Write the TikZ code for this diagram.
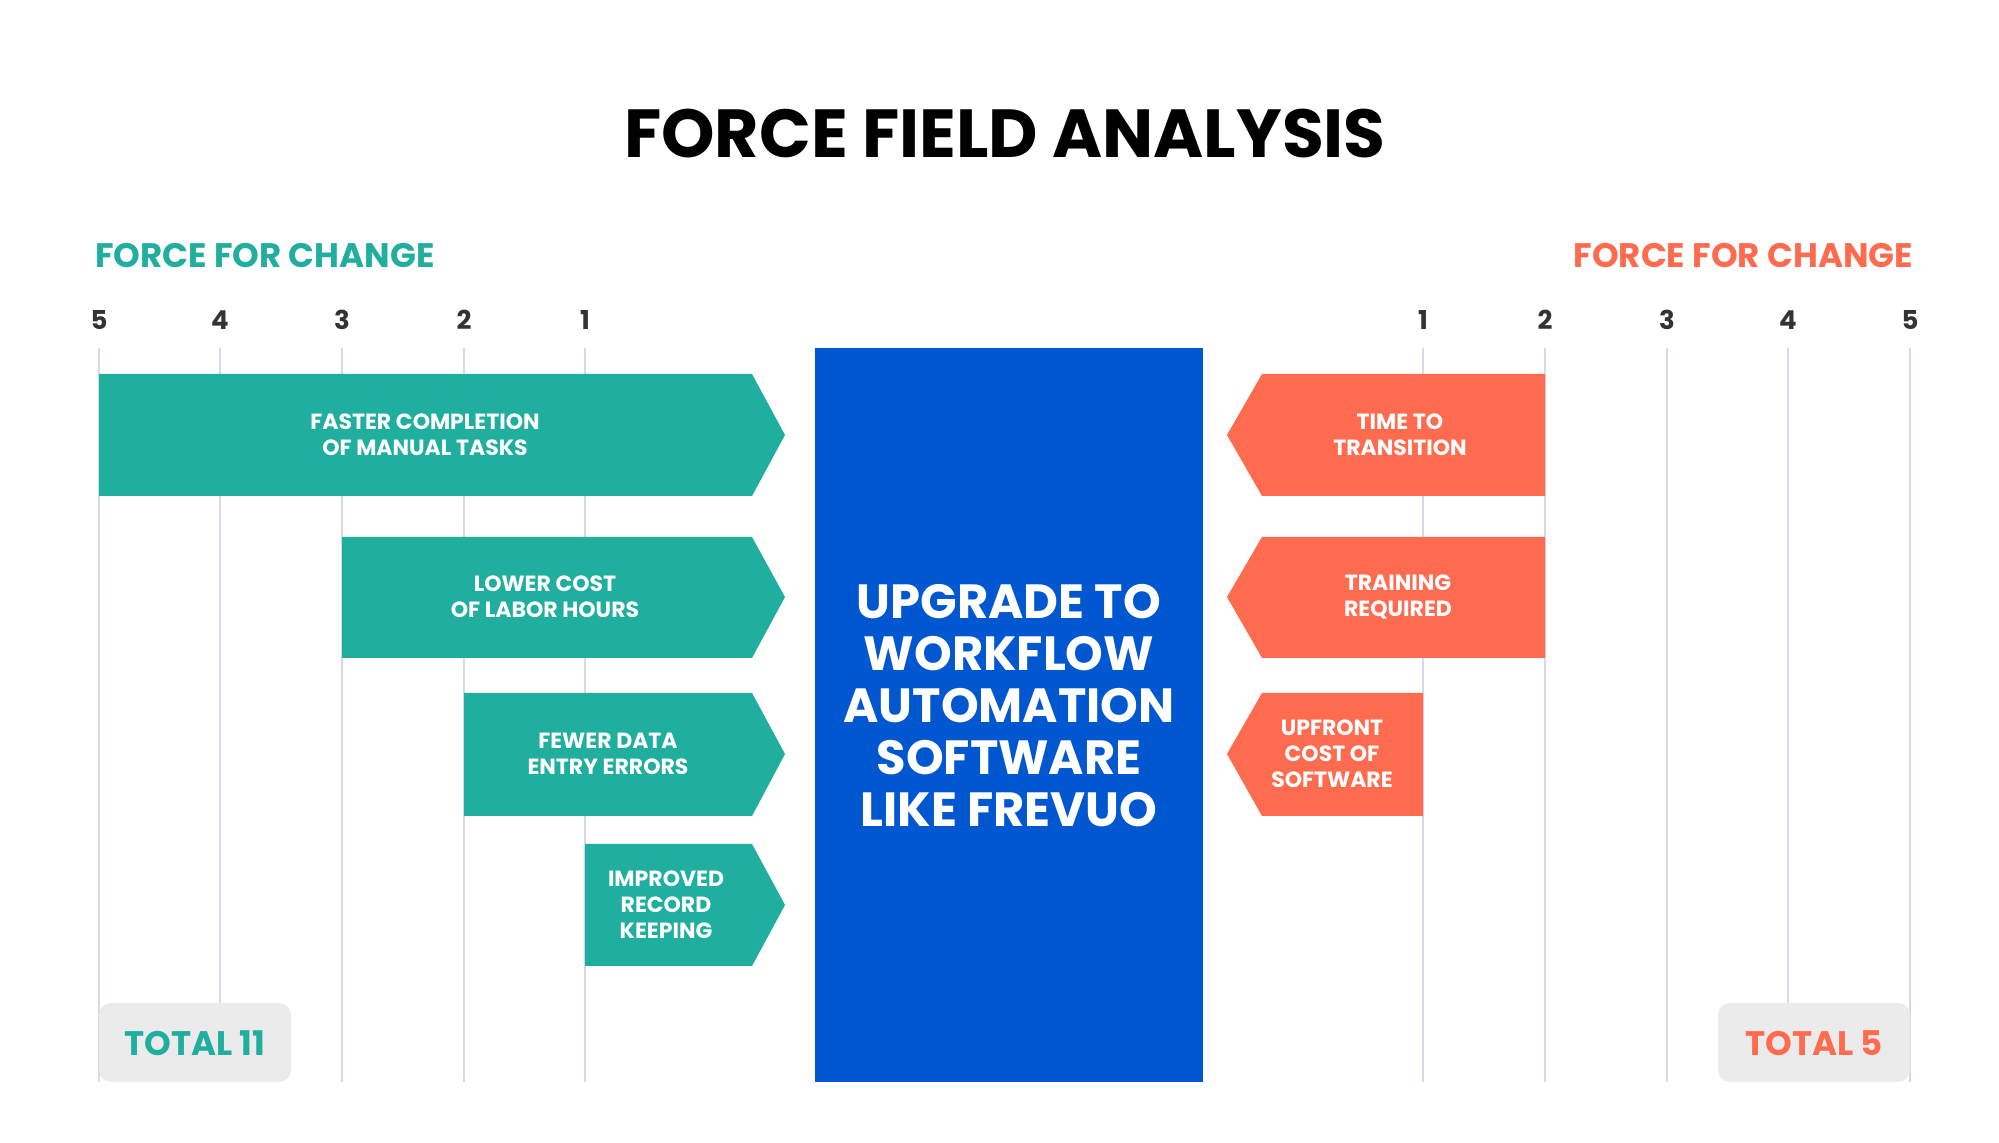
\documentclass[tikz,border=0pt]{standalone}
\usepackage{fontspec}
\setmainfont{Poppins}
\begin{document}
\definecolor{teal}{HTML}{20AE9E}
\definecolor{coral}{HTML}{FF6B4E}
\definecolor{bblue}{HTML}{0057D0}
\definecolor{gline}{HTML}{D3DBEA}
\definecolor{gbox}{HTML}{EBEBEB}
\definecolor{num}{HTML}{333333}
\begin{tikzpicture}[x=0.5pt,y=-0.5pt,
  lbl/.style={text=white,font=\bfseries\fontsize{11}{13}\selectfont,align=center},
  numl/.style={text=num,font=\bfseries\fontsize{13}{15}\selectfont},
  grid/.style={gline,line width=1.2pt},
  gar/.style={fill=teal},rar/.style={fill=coral}]
\useasboundingbox (0,0) rectangle (1999,1143);
\fill[white] (0,0) rectangle (1999,1143);
\node (title) at (1005,134) {\bfseries\fontsize{34}{40}\selectfont FORCE FIELD ANALYSIS};
\node[anchor=west,text=teal,font=\bfseries\fontsize{17}{20}\selectfont] (hl) at (88,256) {FORCE FOR CHANGE};
\node[anchor=east,text=coral,font=\bfseries\fontsize{17}{20}\selectfont] (hr) at (1920,256) {FORCE FOR CHANGE};
\foreach \x/\n in {99/5,220/4,342/3,464/2,585/1,1423/1,1545/2,1667/3,1788/4,1910/5}{
  \draw[grid] (\x,348) -- (\x,1082);
  \node[numl] at (\x,320) {\n};
}
% total boxes
\fill[gbox,rounded corners=6pt] (99,1003) rectangle (291,1082);
\node[text=teal,font=\bfseries\fontsize{17}{20}\selectfont] (tl) at (195,1043) {TOTAL 11};
\fill[gbox,rounded corners=6pt] (1718,1003) rectangle (1910,1082);
\node[text=coral,font=\bfseries\fontsize{17}{20}\selectfont] (tr) at (1814,1043) {TOTAL 5};
% center box
\fill[bblue] (815,348) rectangle (1203,1082);
\node[text=white,font=\bfseries\fontsize{24}{26}\selectfont,align=center] (goal) at (1009,706) {UPGRADE TO\\WORKFLOW\\AUTOMATION\\SOFTWARE\\LIKE FREVUO};
% green arrows
\fill[gar] (99,374) -- (752,374) -- (785,435) -- (752,496) -- (99,496) -- cycle;
\node[lbl] (g1) at (425,435) {FASTER COMPLETION\\OF MANUAL TASKS};
\fill[gar] (342,537) -- (752,537) -- (785,597) -- (752,658) -- (342,658) -- cycle;
\node[lbl] (g2) at (545,597) {LOWER COST\\OF LABOR HOURS};
\fill[gar] (464,693) -- (752,693) -- (785,754) -- (752,816) -- (464,816) -- cycle;
\node[lbl] (g3) at (608,754) {FEWER DATA\\ENTRY ERRORS};
\fill[gar] (585,844) -- (752,844) -- (785,905) -- (752,966) -- (585,966) -- cycle;
\node[lbl] (g4) at (666,905) {IMPROVED\\RECORD\\KEEPING};
% red arrows
\fill[rar] (1545,374) -- (1262,374) -- (1227,435) -- (1262,496) -- (1545,496) -- cycle;
\node[lbl] (r1) at (1400,435) {TIME TO\\TRANSITION};
\fill[rar] (1545,537) -- (1262,537) -- (1227,597) -- (1262,658) -- (1545,658) -- cycle;
\node[lbl] (r2) at (1398,597) {TRAINING\\REQUIRED};
\fill[rar] (1423,693) -- (1262,693) -- (1227,754) -- (1262,816) -- (1423,816) -- cycle;
\node[lbl] (r3) at (1332,754) {UPFRONT\\COST OF\\SOFTWARE};
\end{tikzpicture}
\end{document}
